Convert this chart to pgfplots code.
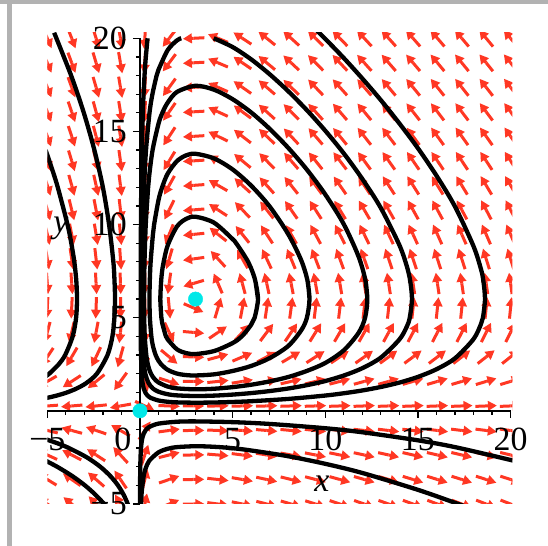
\documentclass[border=0pt]{standalone}
\usepackage{fontspec}
\setmainfont{Liberation Serif}
\usepackage{pgfplots}
\usepackage{pgfplotstable}
\pgfplotsset{compat=1.18}
\usetikzlibrary{arrows.meta}
\definecolor{arr}{RGB}{255,55,35}
\definecolor{eqc}{RGB}{0,232,232}
\definecolor{frameg}{RGB}{178,178,178}

\pgfplotstableread[row sep=\\]{
x y\\
-5 -5\\ -3.684 -5\\ -2.368 -5\\ -1.053 -5\\ 0.263 -5\\ 1.579 -5\\ 2.895 -5\\ 4.211 -5\\ 5.526 -5\\ 6.842 -5\\ 8.158 -5\\ 9.474 -5\\ 10.789 -5\\ 12.105 -5\\ 13.421 -5\\ 14.737 -5\\ 16.053 -5\\ 17.368 -5\\ 18.684 -5\\ 20 -5\\
-5 -3.684\\ -3.684 -3.684\\ -2.368 -3.684\\ -1.053 -3.684\\ 0.263 -3.684\\ 1.579 -3.684\\ 2.895 -3.684\\ 4.211 -3.684\\ 5.526 -3.684\\ 6.842 -3.684\\ 8.158 -3.684\\ 9.474 -3.684\\ 10.789 -3.684\\ 12.105 -3.684\\ 13.421 -3.684\\ 14.737 -3.684\\ 16.053 -3.684\\ 17.368 -3.684\\ 18.684 -3.684\\ 20 -3.684\\
-5 -2.368\\ -3.684 -2.368\\ -2.368 -2.368\\ -1.053 -2.368\\ 0.263 -2.368\\ 1.579 -2.368\\ 2.895 -2.368\\ 4.211 -2.368\\ 5.526 -2.368\\ 6.842 -2.368\\ 8.158 -2.368\\ 9.474 -2.368\\ 10.789 -2.368\\ 12.105 -2.368\\ 13.421 -2.368\\ 14.737 -2.368\\ 16.053 -2.368\\ 17.368 -2.368\\ 18.684 -2.368\\ 20 -2.368\\
-5 -1.053\\ -3.684 -1.053\\ -2.368 -1.053\\ -1.053 -1.053\\ 0.263 -1.053\\ 1.579 -1.053\\ 2.895 -1.053\\ 4.211 -1.053\\ 5.526 -1.053\\ 6.842 -1.053\\ 8.158 -1.053\\ 9.474 -1.053\\ 10.789 -1.053\\ 12.105 -1.053\\ 13.421 -1.053\\ 14.737 -1.053\\ 16.053 -1.053\\ 17.368 -1.053\\ 18.684 -1.053\\ 20 -1.053\\
-5 0.263\\ -3.684 0.263\\ -2.368 0.263\\ -1.053 0.263\\ 0.263 0.263\\ 1.579 0.263\\ 2.895 0.263\\ 4.211 0.263\\ 5.526 0.263\\ 6.842 0.263\\ 8.158 0.263\\ 9.474 0.263\\ 10.789 0.263\\ 12.105 0.263\\ 13.421 0.263\\ 14.737 0.263\\ 16.053 0.263\\ 17.368 0.263\\ 18.684 0.263\\ 20 0.263\\
-5 1.579\\ -3.684 1.579\\ -2.368 1.579\\ -1.053 1.579\\ 0.263 1.579\\ 1.579 1.579\\ 2.895 1.579\\ 4.211 1.579\\ 5.526 1.579\\ 6.842 1.579\\ 8.158 1.579\\ 9.474 1.579\\ 10.789 1.579\\ 12.105 1.579\\ 13.421 1.579\\ 14.737 1.579\\ 16.053 1.579\\ 17.368 1.579\\ 18.684 1.579\\ 20 1.579\\
-5 2.895\\ -3.684 2.895\\ -2.368 2.895\\ -1.053 2.895\\ 0.263 2.895\\ 1.579 2.895\\ 2.895 2.895\\ 4.211 2.895\\ 5.526 2.895\\ 6.842 2.895\\ 8.158 2.895\\ 9.474 2.895\\ 10.789 2.895\\ 12.105 2.895\\ 13.421 2.895\\ 14.737 2.895\\ 16.053 2.895\\ 17.368 2.895\\ 18.684 2.895\\ 20 2.895\\
-5 4.211\\ -3.684 4.211\\ -2.368 4.211\\ -1.053 4.211\\ 0.263 4.211\\ 1.579 4.211\\ 2.895 4.211\\ 4.211 4.211\\ 5.526 4.211\\ 6.842 4.211\\ 8.158 4.211\\ 9.474 4.211\\ 10.789 4.211\\ 12.105 4.211\\ 13.421 4.211\\ 14.737 4.211\\ 16.053 4.211\\ 17.368 4.211\\ 18.684 4.211\\ 20 4.211\\
-5 5.526\\ -3.684 5.526\\ -2.368 5.526\\ -1.053 5.526\\ 0.263 5.526\\ 1.579 5.526\\ 2.895 5.526\\ 4.211 5.526\\ 5.526 5.526\\ 6.842 5.526\\ 8.158 5.526\\ 9.474 5.526\\ 10.789 5.526\\ 12.105 5.526\\ 13.421 5.526\\ 14.737 5.526\\ 16.053 5.526\\ 17.368 5.526\\ 18.684 5.526\\ 20 5.526\\
-5 6.842\\ -3.684 6.842\\ -2.368 6.842\\ -1.053 6.842\\ 0.263 6.842\\ 1.579 6.842\\ 2.895 6.842\\ 4.211 6.842\\ 5.526 6.842\\ 6.842 6.842\\ 8.158 6.842\\ 9.474 6.842\\ 10.789 6.842\\ 12.105 6.842\\ 13.421 6.842\\ 14.737 6.842\\ 16.053 6.842\\ 17.368 6.842\\ 18.684 6.842\\ 20 6.842\\
-5 8.158\\ -3.684 8.158\\ -2.368 8.158\\ -1.053 8.158\\ 0.263 8.158\\ 1.579 8.158\\ 2.895 8.158\\ 4.211 8.158\\ 5.526 8.158\\ 6.842 8.158\\ 8.158 8.158\\ 9.474 8.158\\ 10.789 8.158\\ 12.105 8.158\\ 13.421 8.158\\ 14.737 8.158\\ 16.053 8.158\\ 17.368 8.158\\ 18.684 8.158\\ 20 8.158\\
-5 9.474\\ -3.684 9.474\\ -2.368 9.474\\ -1.053 9.474\\ 0.263 9.474\\ 1.579 9.474\\ 2.895 9.474\\ 4.211 9.474\\ 5.526 9.474\\ 6.842 9.474\\ 8.158 9.474\\ 9.474 9.474\\ 10.789 9.474\\ 12.105 9.474\\ 13.421 9.474\\ 14.737 9.474\\ 16.053 9.474\\ 17.368 9.474\\ 18.684 9.474\\ 20 9.474\\
-5 10.789\\ -3.684 10.789\\ -2.368 10.789\\ -1.053 10.789\\ 0.263 10.789\\ 1.579 10.789\\ 2.895 10.789\\ 4.211 10.789\\ 5.526 10.789\\ 6.842 10.789\\ 8.158 10.789\\ 9.474 10.789\\ 10.789 10.789\\ 12.105 10.789\\ 13.421 10.789\\ 14.737 10.789\\ 16.053 10.789\\ 17.368 10.789\\ 18.684 10.789\\ 20 10.789\\
-5 12.105\\ -3.684 12.105\\ -2.368 12.105\\ -1.053 12.105\\ 0.263 12.105\\ 1.579 12.105\\ 2.895 12.105\\ 4.211 12.105\\ 5.526 12.105\\ 6.842 12.105\\ 8.158 12.105\\ 9.474 12.105\\ 10.789 12.105\\ 12.105 12.105\\ 13.421 12.105\\ 14.737 12.105\\ 16.053 12.105\\ 17.368 12.105\\ 18.684 12.105\\ 20 12.105\\
-5 13.421\\ -3.684 13.421\\ -2.368 13.421\\ -1.053 13.421\\ 0.263 13.421\\ 1.579 13.421\\ 2.895 13.421\\ 4.211 13.421\\ 5.526 13.421\\ 6.842 13.421\\ 8.158 13.421\\ 9.474 13.421\\ 10.789 13.421\\ 12.105 13.421\\ 13.421 13.421\\ 14.737 13.421\\ 16.053 13.421\\ 17.368 13.421\\ 18.684 13.421\\ 20 13.421\\
-5 14.737\\ -3.684 14.737\\ -2.368 14.737\\ -1.053 14.737\\ 0.263 14.737\\ 1.579 14.737\\ 2.895 14.737\\ 4.211 14.737\\ 5.526 14.737\\ 6.842 14.737\\ 8.158 14.737\\ 9.474 14.737\\ 10.789 14.737\\ 12.105 14.737\\ 13.421 14.737\\ 14.737 14.737\\ 16.053 14.737\\ 17.368 14.737\\ 18.684 14.737\\ 20 14.737\\
-5 16.053\\ -3.684 16.053\\ -2.368 16.053\\ -1.053 16.053\\ 0.263 16.053\\ 1.579 16.053\\ 2.895 16.053\\ 4.211 16.053\\ 5.526 16.053\\ 6.842 16.053\\ 8.158 16.053\\ 9.474 16.053\\ 10.789 16.053\\ 12.105 16.053\\ 13.421 16.053\\ 14.737 16.053\\ 16.053 16.053\\ 17.368 16.053\\ 18.684 16.053\\ 20 16.053\\
-5 17.368\\ -3.684 17.368\\ -2.368 17.368\\ -1.053 17.368\\ 0.263 17.368\\ 1.579 17.368\\ 2.895 17.368\\ 4.211 17.368\\ 5.526 17.368\\ 6.842 17.368\\ 8.158 17.368\\ 9.474 17.368\\ 10.789 17.368\\ 12.105 17.368\\ 13.421 17.368\\ 14.737 17.368\\ 16.053 17.368\\ 17.368 17.368\\ 18.684 17.368\\ 20 17.368\\
-5 18.684\\ -3.684 18.684\\ -2.368 18.684\\ -1.053 18.684\\ 0.263 18.684\\ 1.579 18.684\\ 2.895 18.684\\ 4.211 18.684\\ 5.526 18.684\\ 6.842 18.684\\ 8.158 18.684\\ 9.474 18.684\\ 10.789 18.684\\ 12.105 18.684\\ 13.421 18.684\\ 14.737 18.684\\ 16.053 18.684\\ 17.368 18.684\\ 18.684 18.684\\ 20 18.684\\
-5 20\\ -3.684 20\\ -2.368 20\\ -1.053 20\\ 0.263 20\\ 1.579 20\\ 2.895 20\\ 4.211 20\\ 5.526 20\\ 6.842 20\\ 8.158 20\\ 9.474 20\\ 10.789 20\\ 12.105 20\\ 13.421 20\\ 14.737 20\\ 16.053 20\\ 17.368 20\\ 18.684 20\\ 20 20\\
}\gridtab

\def\AA{((\thisrow{x})*(6-(\thisrow{y}))/20)}
\def\BB{((\thisrow{y})*((\thisrow{x})-3)/20)}

\begin{document}
\begin{tikzpicture}
\path[use as bounding box] (0,0) rectangle (548bp,546bp);
\fill[frameg] (0,542bp) rectangle (548bp,546bp);
\fill[frameg] (7bp,0) rectangle (12bp,542bp);
\begin{axis}[
  at={(47.3bp,42bp)}, anchor=south west,
  scale only axis, width=465.1bp, height=471.3bp,
  xmin=-5, xmax=20.1, ymin=-5, ymax=20.3,
  enlargelimits=false,
  axis lines=middle, axis on top,
  axis line style={-, line width=1.7bp, black},
  x axis line style={shorten >=1.85bp},
  y axis line style={shorten >=5.6bp},
  tick align=outside,
  tick style={black, line width=1.3bp},
  major tick length=7bp, minor tick length=4bp,
  xtick={-5,5,10,15,20}, xticklabels={−5,5,10,15,20},
  ytick={-5,5,10,15,20}, yticklabels={−5,5,10,15,20},
  minor xtick={-4,-3,-2,-1,1,2,3,4,6,7,8,9,11,12,13,14,16,17,18,19},
  minor ytick={-4,-3,-2,-1,0,1,2,3,4,6,7,8,9,11,12,13,14,16,17,18,19},
  extra x ticks={0}, extra x tick labels={0},
  extra x tick style={xticklabel style={xshift=-17bp}},
  hide obscured x ticks=false, hide obscured y ticks=false,
  tick label style={font=\fontsize{34}{34}\selectfont, inner sep=0pt},
  xticklabel style={anchor=north, yshift=-10bp},
  yticklabel style={anchor=east, xshift=-6bp},
]
\addplot[arr, line width=3bp, -{Triangle[length=9bp,width=9.5bp]},
  quiver={u={0.58*\AA/veclen(\AA,\BB)}, v={0.58*\BB/veclen(\AA,\BB)}}]
  table[x=x,y=y] {\gridtab};
\addplot[arr, line width=3bp,
  quiver={u={-0.58*\AA/veclen(\AA,\BB)}, v={-0.58*\BB/veclen(\AA,\BB)}}]
  table[x=x,y=y] {\gridtab};

% closed orbits
\addplot[black, line width=4.3bp, smooth] coordinates {
(6.37,6) (6.22,7) (6.0,7.65) (5.84,8) (5.5,8.55) (5.19,9) (5,9.22) (4,10.10) (3,10.42) (2.5,10.31) (2,9.90) (1.5,8.89) (1.28,8) (1.2,7.53) (1.147,7) (1.10,6) (1.157,5) (1.2,4.72) (1.40,4) (1.5,3.83) (2,3.30) (2.5,3.10) (3,3.05) (4,3.21) (5,3.64) (5.5,4.0) (6,4.62) (6.19,5) (6.37,6) (6.22,7)};
\addplot[black, line width=4.3bp, smooth] coordinates {
(9.15,6) (9.04,7) (8.7,8.09) (8,9.49) (7,10.97) (6,12.09) (5,12.96) (4,13.55) (3,13.80) (2.5,13.72) (2,13.41) (1.5,12.74) (1.195,12) (1,11.31) (0.764,10) (0.7,9.47) (0.577,8) (0.532,7) (0.515,6) (0.536,5) (0.615,4) (0.7,3.49) (0.846,3) (1,2.69) (1.14,2.5) (1.5,2.20) (2,2.00) (2.5,1.92) (3,1.90) (4,1.96) (5,2.14) (6,2.41) (7,2.83) (8,3.48) (8.7,4.32) (9.01,5) (9.15,6) (9.04,7)};
\addplot[black, line width=4.3bp, smooth] coordinates {
(12.27,6) (12.17,7) (11.8,8.28) (11,10.02) (10,11.62) (9,12.96) (8,14.12) (7,15.14) (6,16.02) (5,16.73) (4,17.24) (3,17.45) (2,17.12) (1.5,16.55) (1.21,16) (1,15.41) (0.682,14) (0.5,12.63) (0.442,12) (0.313,10) (0.245,8) (0.231,7) (0.222,6) (0.230,5) (0.259,4) (0.342,3) (0.426,2.5) (0.5,2.23) (0.594,2) (0.7,1.82) (0.8,1.698) (1,1.523) (1.5,1.303) (2,1.207) (3,1.155) (4,1.187) (5,1.273) (6,1.402) (7,1.58) (8,1.816) (9,2.14) (10,2.57) (11,3.25) (11.8,4.19) (12.15,5) (12.27,6) (12.17,7)};
\addplot[black, line width=4.3bp, smooth] coordinates {
(3.98,20) (5,19.53) (6,18.87) (7,18.07) (8,17.16) (9,16.15) (10,15.04) (11,13.82) (12,12.45) (13,10.89) (14,8.90) (14.4,7.77) (14.58,7) (14.68,6) (14.56,5) (14.4,4.52) (14,3.83) (13,2.86) (12,2.29) (11,1.897) (10,1.60) (9,1.377) (8,1.2) (7,1.062) (6,0.954) (5,0.873) (4,0.818) (3,0.796) (2,0.831) (1.5,0.891) (1,1.028) (0.7,1.2) (0.461,1.5) (0.288,2) (0.2,2.62) (0.173,3) (0.135,4) (0.121,5) (0.117,6) (0.120,7) (0.128,8) (0.160,10) (0.220,12) (0.327,14) (0.516,16) (0.673,17) (0.9,18) (1,18.31) (1.5,19.37) (2,19.89) (2.23,20)};
\addplot[black, line width=4.3bp, smooth] coordinates {
(9.5,20.46) (10,19.97) (11,18.94) (12,17.84) (13,16.68) (14,15.43) (15,14.10) (16,12.63) (17,10.97) (18,8.84) (18.4,7.62) (18.53,7) (18.62,6) (18.51,5) (18.4,4.65) (18,3.85) (17,2.82) (16,2.232) (15,1.823) (14,1.517) (13,1.282) (12,1.094) (11,0.945) (10,0.822) (8,0.640) (6,0.518) (5,0.477) (4,0.449) (3,0.438) (2,0.455) (1.5,0.487) (1,0.556) (0.571,0.7) (0.5,0.746) (0.4,0.831) (0.3,0.965) (0.2,1.209) (0.15,1.439) (0.1,1.884) (0.056,3) (0.044,4) (0.038,6) (0.0416,8) (0.052,10) (0.071,12) (0.1025,14) (0.156,16) (0.2,17.11) (0.247,18) (0.3,18.79) (0.41,20)};
% second quadrant
\addplot[black, line width=4.3bp, smooth] coordinates {
(-4.63,20.3) (-3.714,18) (-3.03,16) (-2.459,14) (-2.0,12) (-1.667,10) (-1.435,8) (-1.374,7) (-1.345,6) (-1.379,5) (-1.485,4) (-1.749,3) (-2.32,2) (-2.884,1.5) (-3.414,1.2) (-3.904,1) (-4.21,0.9) (-4.57,0.8) (-5.0,0.7) (-5.52,0.6)};
\addplot[black, line width=4.3bp, smooth] coordinates {
(-5.09,14) (-4.75,13) (-4.435,12) (-3.908,10) (-3.705,9) (-3.542,8) (-3.436,7) (-3.397,6) (-3.445,5) (-3.63,4) (-4.035,3) (-4.383,2.5) (-4.89,2) (-5.16,1.8)};
% third quadrant
\addplot[black, line width=4.3bp, smooth] coordinates {
(-5.15,-1.5) (-4.43,-1.75) (-3.824,-2) (-2.86,-2.5) (-2.141,-3) (-1.598,-3.5) (-1.186,-4) (-0.882,-4.5) (-0.657,-5) (-0.48,-5.5)};
\addplot[black, line width=4.3bp, smooth] coordinates {
(-5.24,-2.6) (-4.468,-3) (-3.653,-3.5) (-2.969,-4) (-2.405,-4.5) (-1.93,-5) (-1.77,-5.2)};
% fourth quadrant
\addplot[black, line width=4.3bp, smooth] coordinates {
(0.002,-5.67) (0.005,-4.43) (0.01,-3.588) (0.02,-2.87) (0.05,-2.081) (0.1,-1.611) (0.15,-1.377) (0.2,-1.228) (0.3,-1.051) (0.5,-0.867) (1,-0.686) (2,-0.584) (3,-0.566) (5,-0.606) (7,-0.702) (10,-0.933) (12,-1.149) (15,-1.582) (17,-1.946) (20,-2.636) (20.5,-2.77)};
\addplot[black, line width=4.3bp, smooth] coordinates {
(0.03,-5.9) (0.05,-5.18) (0.1,-4.295) (0.2,-3.504) (0.3,-3.112) (0.5,-2.682) (1,-2.229) (1.5,-2.034) (2,-1.947) (3,-1.898) (4,-1.929) (5,-2.004) (6,-2.127) (8,-2.436) (10,-2.843) (12,-3.334) (15,-4.239) (17.18,-5) (18,-5.31)};
% equilibria
\addplot[only marks, mark=*, mark size=7.2bp, eqc, mark options={draw=eqc, fill=eqc}] coordinates {(0,0) (3,6)};
\node[font=\fontsize{34}{34}\selectfont\itshape, inner sep=0pt] at (axis cs:9.82,-3.92) {x};
\node[font=\fontsize{34}{34}\selectfont\itshape, inner sep=0pt] at (axis cs:-4.27,9.77) {y};
\end{axis}
\end{tikzpicture}
\end{document}
